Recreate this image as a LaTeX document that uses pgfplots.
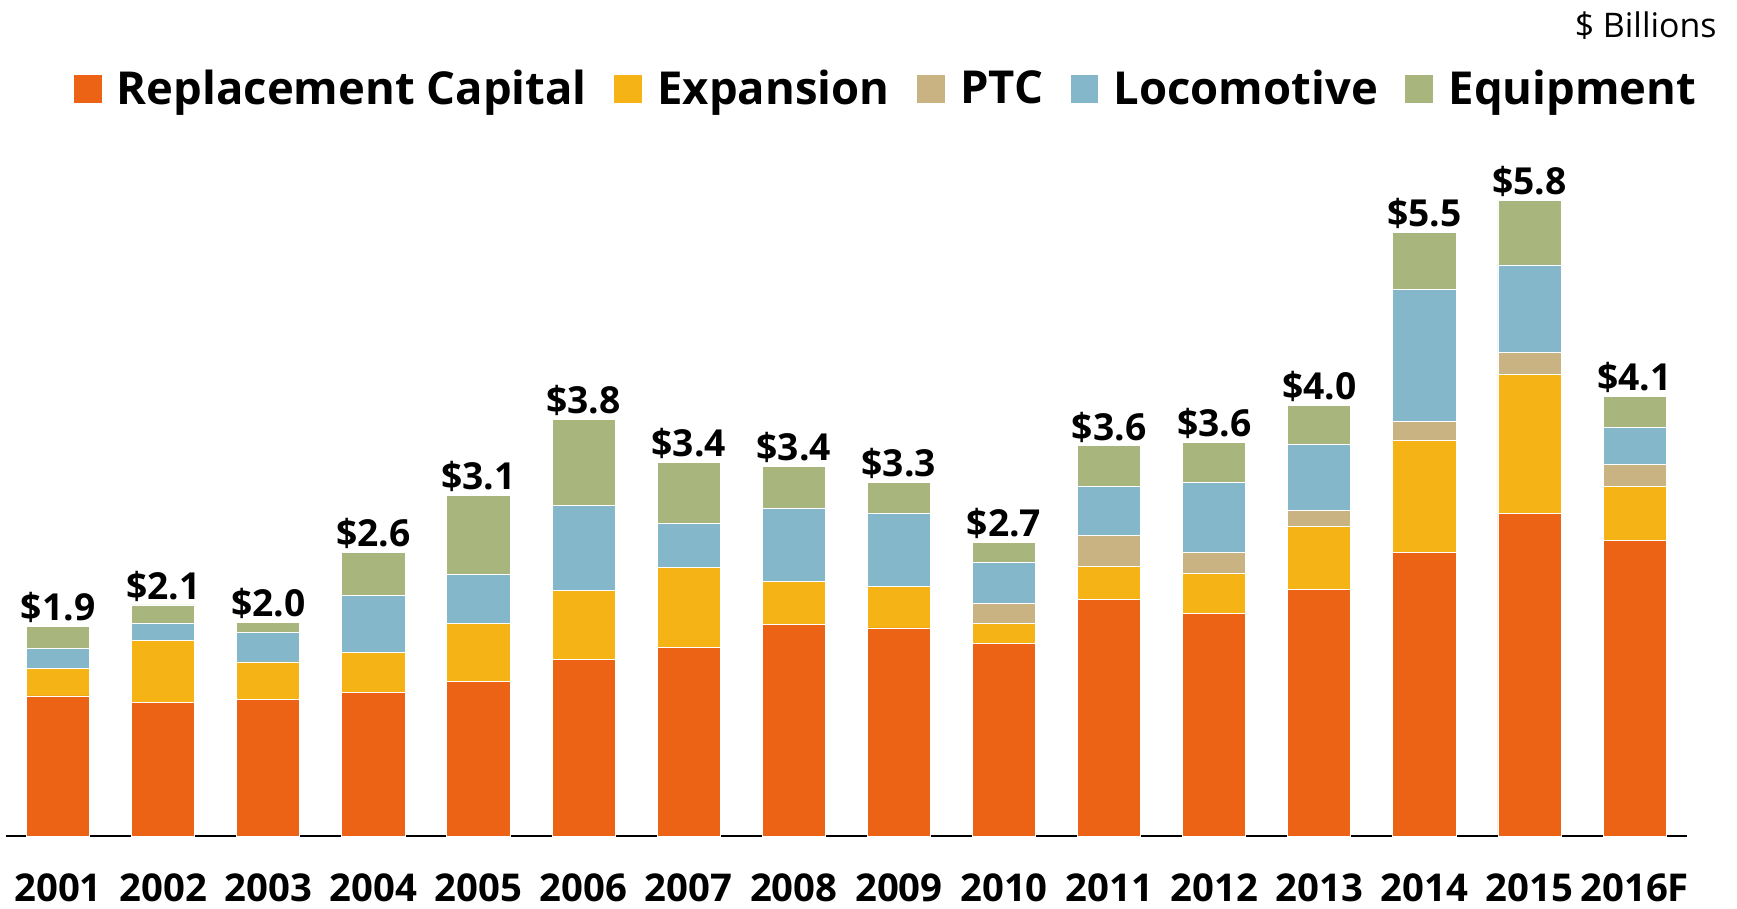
\documentclass[border=0pt]{standalone}
\usepackage{pgfplots}
\usepackage{pgfplotstable}
\pgfplotsset{compat=1.18}
\usepackage{fontspec}
\setmainfont{Open Sans}

\definecolor{cRC}{HTML}{EC6316}
\definecolor{cEX}{HTML}{F5B316}
\definecolor{cPTC}{HTML}{C9B382}
\definecolor{cLOC}{HTML}{84B7CA}
\definecolor{cEQ}{HTML}{A8B57D}

\pgfplotstableread{
x rc ex ptc loc eq tot lbl
0 1.28 0.25 0 0.18 0.20 1.91 1.9
1 1.22 0.57 0 0.15 0.17 2.11 2.1
2 1.25 0.34 0 0.27 0.09 1.95 2.0
3 1.31 0.37 0 0.52 0.39 2.59 2.6
4 1.41 0.53 0 0.45 0.72 3.11 3.1
5 1.61 0.63 0 0.78 0.78 3.80 3.8
6 1.72 0.73 0 0.40 0.56 3.41 3.4
7 1.93 0.39 0 0.67 0.38 3.37 3.4
8 1.90 0.38 0 0.66 0.29 3.23 3.3
9 1.76 0.18 0.18 0.38 0.18 2.68 2.7
10 2.16 0.30 0.28 0.45 0.37 3.56 3.6
11 2.03 0.37 0.19 0.64 0.36 3.59 3.6
12 2.25 0.58 0.14 0.60 0.36 3.93 4.0
13 2.59 1.02 0.17 1.21 0.52 5.51 5.5
14 2.94 1.27 0.20 0.80 0.59 5.80 5.8
15 2.70 0.49 0.20 0.34 0.28 4.01 4.1
}\data

\pgfplotsset{common/.style={
  at={(2.5pt,32.5pt)}, anchor=south west,
  scale only axis, width=759pt, height=377.5pt,
  xmin=-0.5, xmax=15.5, ymin=0, ymax=7.626, clip=false}}

\begin{document}
\begin{tikzpicture}
\path[use as bounding box] (0,0) rectangle (784pt,410pt);
\begin{axis}[
  common,
  ybar stacked, bar width=28.5pt,
  axis x line=bottom, axis line style={black, line width=0.8pt, -},
  hide y axis,
  xtick=data, major tick length=0pt,
  xticklabels={2001,2002,2003,2004,2005,2006,2007,2008,2009,2010,2011,2012,2013,2014,2015,2016F},
  xticklabel style={font=\fontsize{17.3}{19}\selectfont\bfseries, inner sep=0pt, yshift=-16.5pt},
  every axis plot/.append style={draw=white, line width=0.4pt},
  legend style={at={(0.524,0.894)}, anchor=center, draw=none, fill=none,
    legend columns=5, font=\fontsize{20.5}{22}\selectfont\bfseries,
    column sep=0pt, inner sep=0pt,
    /tikz/every odd column/.append style={column sep=4.5pt},
    /tikz/every even column/.append style={column sep=10pt}},
  legend cell align=left,
  legend image code/.code={\fill[#1] (0pt,-6.5pt) rectangle (13pt,6.5pt);},
]
\addplot[fill=cRC] table[x=x,y=rc]{\data};
\addlegendentry{Replacement Capital}
\addplot[fill=cEX] table[x=x,y=ex]{\data};
\addlegendentry{Expansion}
\addplot[fill=cPTC] table[x=x,y=ptc]{\data};
\addlegendentry{PTC}
\addplot[fill=cLOC] table[x=x,y=loc]{\data};
\addlegendentry{Locomotive}
\addplot[fill=cEQ] table[x=x,y=eq]{\data};
\addlegendentry{Equipment}
\node[anchor=east, font=\fontsize{15.3}{17}\selectfont, inner sep=0pt] at (axis description cs:1.0178,0.969) {\$ Billions};
\end{axis}
\begin{axis}[common, hide axis]
\addplot[only marks, mark=none, point meta=explicit symbolic,
  nodes near coords={\$\pgfplotspointmeta},
  every node near coord/.append style={font=\fontsize{16.8}{18}\selectfont\bfseries, text=black, anchor=south, yshift=0.5pt, inner sep=1pt}]
  table[x=x,y=tot,meta=lbl]{\data};
\end{axis}
\end{tikzpicture}
\end{document}
